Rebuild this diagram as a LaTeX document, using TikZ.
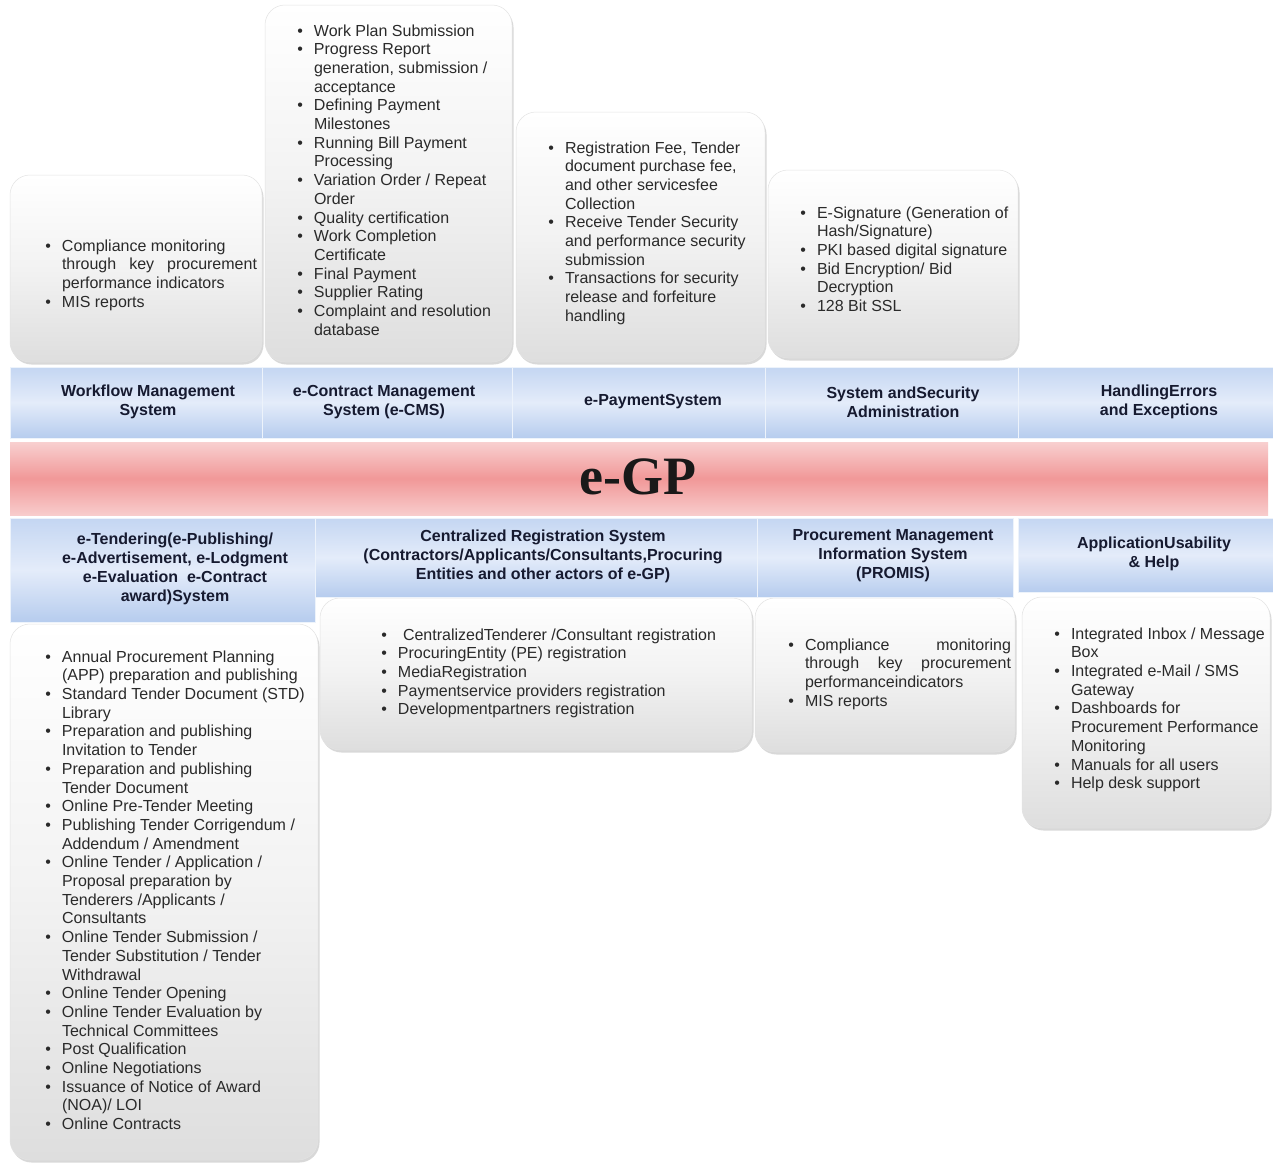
\documentclass[tikz,border=0pt]{standalone}
\usepackage{fontspec}
\setmainfont{Liberation Sans}
\newfontfamily\egpfont{Liberation Serif}
\usetikzlibrary{shadows}
\definecolor{txt}{RGB}{42,42,42}
\definecolor{hdtxt}{RGB}{22,26,48}
\definecolor{blueA}{RGB}{196,214,242}
\definecolor{blueB}{RGB}{228,236,250}
\definecolor{blueC}{RGB}{182,204,238}
\definecolor{redA}{RGB}{248,208,208}
\definecolor{redB}{RGB}{241,152,152}
\definecolor{redC}{RGB}{248,204,204}
\newcommand{\blt}{\textbullet}
\newcommand{\jl}[2]{\makebox[#1][s]{#2}}
\begin{document}
\begin{tikzpicture}[x=1pt,y=-1pt,
  graybox/.style={rounded corners=20pt, top color=white, bottom color=gray!26, middle color=gray!10,
    draw=gray!22, line width=0.5pt, inner sep=0pt, outer sep=0pt, anchor=north west,
    drop shadow={opacity=0.3, shadow xshift=1.5pt, shadow yshift=-2.5pt}},
  bluecell/.style={top color=blueA, bottom color=blueC, middle color=blueB, draw=white!70!blueA,
    line width=0.8pt, inner sep=0pt, outer sep=0pt, anchor=north west},
  hdlbl/.style={align=center, text=hdtxt, inner sep=0pt,
    font=\fontsize{16}{19}\selectfont\bfseries},
  lst/.style={anchor=north west, inner sep=0pt, outer sep=0pt, text=txt,
    font=\fontsize{16}{18.7}\selectfont}]
\useasboundingbox (0,0) rectangle (1273,1163);
\fill[white] (0,0) rectangle (1273,1163);

% ---- top gray boxes
\node[graybox, minimum width=252, minimum height=187] (b1) at (10,175) {};
\node[graybox, minimum width=247, minimum height=357] (b2) at (265,5) {};
\node[graybox, minimum width=249, minimum height=250] (b3) at (516,112) {};
\node[graybox, minimum width=250, minimum height=188] (b4) at (768,170) {};

% ---- bottom gray boxes
\node[graybox, minimum width=308, minimum height=536] (b5) at (10,624) {};
\node[graybox, minimum width=432, minimum height=152] (b6) at (320,598) {};
\node[graybox, minimum width=260, minimum height=154] (b7) at (755,598) {};
\node[graybox, minimum width=248, minimum height=231] (b8) at (1022,597) {};

% ---- top header row
\node[bluecell, minimum width=252, minimum height=71] (h1) at (10,367) {};
\node[bluecell, minimum width=250, minimum height=71] (h2) at (262,367) {};
\node[bluecell, minimum width=253, minimum height=71] (h3) at (512,367) {};
\node[bluecell, minimum width=253, minimum height=71] (h4) at (765,367) {};
\node[bluecell, minimum width=255, minimum height=71] (h5) at (1018,367) {};
\node[hdlbl] (l1) at (148,402) {Workflow Management\\System};
\node[hdlbl] (l2) at (384,402) {e-Contract Management\\System (e-CMS)};
\node[hdlbl] (l3) at (653,402) {e-PaymentSystem};
\node[hdlbl] (l4) at (903,402) {System andSecurity\\Administration};
\node[hdlbl] (l5) at (1159,402) {HandlingErrors\\and Exceptions};

% ---- central band
\node[top color=redA, bottom color=redC, middle color=redB, inner sep=0pt, outer sep=0pt,
  anchor=north west, minimum width=1258, minimum height=73] (band) at (10,442) {};
\node[font=\egpfont\fontsize{54}{60}\selectfont\bfseries, text=black!90, inner sep=0pt] (egp) at (638,477) {e-GP};

% ---- bottom header row
\node[bluecell, minimum width=305, minimum height=104] (h6) at (10,518) {};
\node[bluecell, minimum width=442, minimum height=79] (h7) at (315,518) {};
\node[bluecell, minimum width=256, minimum height=79] (h8) at (757,518) {};
\node[bluecell, minimum width=255, minimum height=74] (h9) at (1018,518) {};
\node[hdlbl] (l6) at (175,569) {e-Tendering(e-Publishing/\\e-Advertisement, e-Lodgment\\e-Evaluation\ \ e-Contract\\award)System};
\node[hdlbl] (l7) at (543,556) {Centralized Registration System\\(Contractors/Applicants/Consultants,Procuring\\Entities and other actors of e-GP)};
\node[hdlbl] (l8) at (893,556) {Procurement Management\\Information System\\(PROMIS)};
\node[hdlbl] (l9) at (1154,554) {ApplicationUsability\\\&\ Help};

% ---- lists, top
\node[lst] (t1) at (45.4,238) {\begin{tabular}{@{}l@{\hspace{11pt}}l@{}}
\blt & Compliance monitoring\\
 & \jl{195pt}{through key procurement}\\
 & performance indicators\\
\blt & MIS reports
\end{tabular}};

\node[lst] (t2) at (297.4,23) {\begin{tabular}{@{}l@{\hspace{11pt}}l@{}}
\blt & Work Plan Submission\\
\blt & Progress Report\\
 & generation, submission /\\
 & acceptance\\
\blt & Defining Payment\\
 & Milestones\\
\blt & Running Bill Payment\\
 & Processing\\
\blt & Variation Order / Repeat\\
 & Order\\
\blt & Quality certification\\
\blt & Work Completion\\
 & Certificate\\
\blt & Final Payment\\
\blt & Supplier Rating\\
\blt & Complaint and resolution\\
 & database
\end{tabular}};

\node[lst] (t3) at (548.4,140) {\begin{tabular}{@{}l@{\hspace{11pt}}l@{}}
\blt & Registration Fee, Tender\\
 & document purchase fee,\\
 & and other servicesfee\\
 & Collection\\
\blt & Receive Tender Security\\
 & and performance security\\
 & submission\\
\blt & Transactions for security\\
 & release and forfeiture\\
 & handling
\end{tabular}};

\node[lst] (t4) at (800.4,205) {\begin{tabular}{@{}l@{\hspace{11pt}}l@{}}
\blt & E-Signature (Generation of\\
 & Hash/Signature)\\
\blt & PKI based digital signature\\
\blt & Bid Encryption/ Bid\\
 & Decryption\\
\blt & 128 Bit SSL
\end{tabular}};

% ---- lists, bottom
\node[lst] (t5) at (45.4,649) {\begin{tabular}{@{}l@{\hspace{11pt}}l@{}}
\blt & Annual Procurement Planning\\
 & (APP) preparation and publishing\\
\blt & Standard Tender Document (STD)\\
 & Library\\
\blt & Preparation and publishing\\
 & Invitation to Tender\\
\blt & Preparation and publishing\\
 & Tender Document\\
\blt & Online Pre-Tender Meeting\\
\blt & Publishing Tender Corrigendum /\\
 & Addendum / Amendment\\
\blt & Online Tender / Application /\\
 & Proposal preparation by\\
 & Tenderers /Applicants /\\
 & Consultants\\
\blt & Online Tender Submission /\\
 & Tender Substitution / Tender\\
 & Withdrawal\\
\blt & Online Tender Opening\\
\blt & Online Tender Evaluation by\\
 & Technical Committees\\
\blt & Post Qualification\\
\blt & Online Negotiations\\
\blt & Issuance of Notice of Award\\
 & (NOA)/ LOI\\
\blt & Online Contracts
\end{tabular}};

\node[lst] (t6) at (381.4,627) {\begin{tabular}{@{}l@{\hspace{11pt}}l@{}}
\blt & \hspace{5pt}CentralizedTenderer /Consultant registration\\
\blt & ProcuringEntity (PE) registration\\
\blt & MediaRegistration\\
\blt & Paymentservice providers registration\\
\blt & Developmentpartners registration
\end{tabular}};

\node[lst] (t7) at (788.4,637) {\begin{tabular}{@{}l@{\hspace{11pt}}l@{}}
\blt & \jl{206pt}{Compliance monitoring}\\
 & \jl{206pt}{through key procurement}\\
 & performanceindicators\\
\blt & MIS reports
\end{tabular}};

\node[lst] (t8) at (1054.4,626) {\begin{tabular}{@{}l@{\hspace{11pt}}l@{}}
\blt & Integrated Inbox / Message\\
 & Box\\
\blt & Integrated e-Mail / SMS\\
 & Gateway\\
\blt & Dashboards for\\
 & Procurement Performance\\
 & Monitoring\\
\blt & Manuals for all users\\
\blt & Help desk support
\end{tabular}};
\end{tikzpicture}
\end{document}
